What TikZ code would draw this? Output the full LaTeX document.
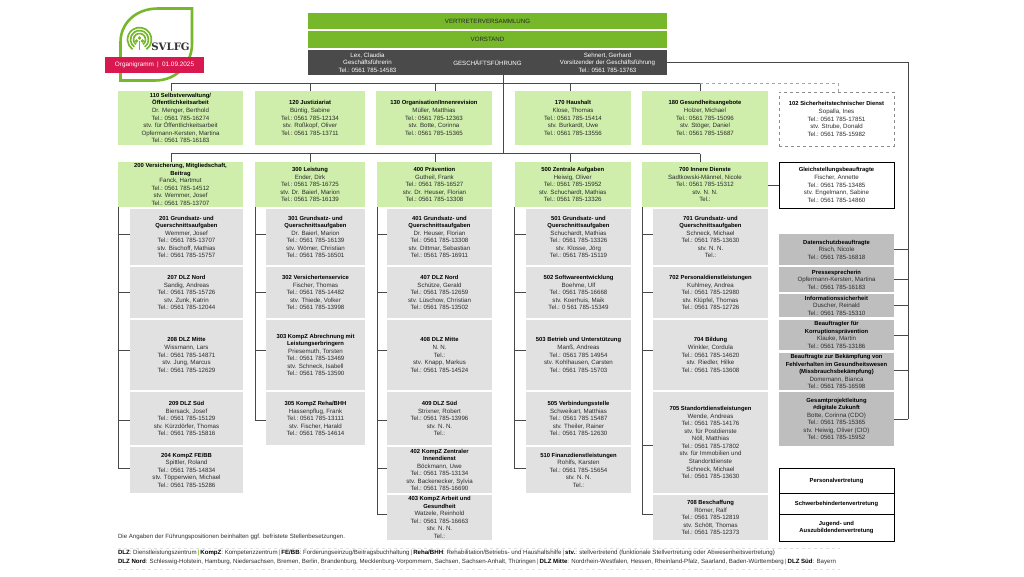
\documentclass[tikz,border=0pt]{standalone}
\usepackage{fontspec}
\setmainfont{Liberation Sans}
\newfontfamily\logofont{DejaVu Serif}
\definecolor{topgreen}{HTML}{76B82A}
\definecolor{lightgreen}{HTML}{CFEEAB}
\definecolor{lightgrey}{HTML}{E1E1E1}
\definecolor{midgrey}{HTML}{BEBEBE}
\definecolor{darkbox}{HTML}{4A4A4A}
\definecolor{rose}{HTML}{D9184F}
\definecolor{bodytext}{HTML}{2C2C2C}
\definecolor{connline}{HTML}{484848}
\newcommand{\bxn}[7]{%
  \pgfmathsetmacro{\bw}{#5-#3}\pgfmathsetmacro{\bh}{#6-#4}%
  \pgfmathsetmacro{\bcx}{(#3+#5)/2}\pgfmathsetmacro{\bcy}{(#4+#6)/2}%
  \node[#2,minimum width=\bw pt,minimum height=\bh pt] (#1) at (\bcx,\bcy) {#7};}
\newcommand{\bft}[1]{{\fontsize{5.85}{7.55}\selectfont\bfseries\textcolor{black}{#1}}}
\newcommand{\hd}[1]{\bft{#1}\\}
\newcommand{\tl}[1]{Tel.:~0561~785-#1}
\newcommand{\sep}{\textcolor{topgreen}{\,\textbf{|}\,}}
\newcommand{\bk}[1]{\textbf{\textcolor{black}{#1}}}
\tikzset{
  base/.style={inner sep=0pt,outer sep=0pt,align=center,text=bodytext,font=\fontsize{6.15}{7.55}\selectfont},
  topbox/.style={base,fill=topgreen,text=black!85},
  gfbox/.style={base,fill=darkbox,text=white},
  gftext/.style={base,text=white},
  leadbox/.style={base,fill=lightgreen},
  unitbox/.style={base,fill=lightgrey},
  staffbox/.style={base,fill=midgrey},
  safetybox/.style={base,draw=black!45,dashed,line width=0.8pt},
  linebox/.style={base,draw=black,line width=0.9pt},
  conn/.style={draw=connline,line width=1pt},
  dashconn/.style={draw=black!35,line width=0.7pt,dashed},
  rule/.style={draw=black!12,line width=0.7pt,dashed},
  notetext/.style={base,anchor=west,align=left,font=\fontsize{6.1}{7.55}\selectfont}
}
\begin{document}
\begin{tikzpicture}[x=1pt,y=-1pt]
\useasboundingbox (0,0) rectangle (1024,576);
% logo
\draw[topgreen,line width=2.6pt,fill=white] (192,8.5) -- (158,8.5) .. controls (135,8.5) and (120.5,24) .. (120.5,42) -- (120.5,80.5) -- (155,80.5) .. controls (178,80.5) and (192,62) .. (192,44) -- cycle;
\foreach \r in {12,9,6}{
  \draw[topgreen,line width=1.7pt] (139.5,39.5) ++(-55:\r pt) arc (-55:235:\r pt);}
\fill[topgreen] (139.5,38) circle (1.8pt) (136.5,41) circle (1.8pt) (142.5,41) circle (1.8pt);
\fill[topgreen] (138.7,41) rectangle (140.3,50);
\node[base,text=black!80,font=\logofont\bfseries\fontsize{10.2}{12}\selectfont] (logotext) at (170.5,46.5) {SVLFG};
\bxn{banner}{base,fill=rose,text=white,font=\fontsize{6.4}{8}\selectfont}{105}{57}{204}{73}{Organigramm\enspace|\enspace01.09.2025}
% top boxes
\bxn{vv}{topbox}{308}{13}{667}{29}{VERTRETERVERSAMMLUNG}
\bxn{vs}{topbox}{308}{31}{667}{48}{VORSTAND}
\bxn{gf}{gfbox}{308}{50}{667}{75}{GESCHÄFTSFÜHRUNG}
\node[gftext] (gfl) at (367.5,62.5) {Lex, Claudia\\Geschäftsführerin\\\tl{14583}};
\node[gftext] (gfr) at (607.5,62.5) {Sehnert, Gerhard\\Vorsitzender der Geschäftsführung\\\tl{13763}};
% first row
\bxn{n110}{leadbox}{118}{91}{243}{145}{\hd{110 Selbstverwaltung/}\hd{Öffentlichkeitsarbeit}Dr. Menger, Berthold\\\tl{16274}\\stv. für Öffentlichkeitsarbeit\\Opfermann-Kersten, Martina\\\tl{16183}}
\bxn{n120}{leadbox}{255}{91}{365}{145}{\hd{120 Justiziariat}Büntig, Sabine\\\tl{12134}\\stv. Roßkopf, Oliver\\\tl{13711}}
\bxn{n130}{leadbox}{376}{91}{492}{145}{\hd{130 Organisation/Innenrevision}Müller, Matthias\\\tl{12363}\\stv. Botte, Corinna\\\tl{15365}}
\bxn{n170}{leadbox}{515}{91}{631}{145}{\hd{170 Haushalt}Klose, Thomas\\\tl{15414}\\stv. Burkardt, Uwe\\\tl{13556}}
\bxn{n180}{leadbox}{642}{91}{768}{145}{\hd{180 Gesundheitsangebote}Holzer, Michael\\\tl{15096}\\stv. Stöger, Daniel\\\tl{15687}}
\bxn{n102}{safetybox}{779}{92}{894}{146}{\hd{102 Sicherheitstechnischer Dienst}Sopalla, Ines\\\tl{17851}\\stv. Strube, Donald\\\tl{15982}}
\bxn{ngl}{linebox}{779}{162}{894}{208}{\hd{Gleichstellungsbeauftragte}Fischer, Annette\\\tl{13485}\\stv. Engelmann, Sabine\\\tl{14860}}
% second row leads
\bxn{n200}{leadbox}{118}{162}{243}{207}{\hd{200 Versicherung, Mitgliedschaft,}\hd{Beitrag}Fanck, Hartmut\\\tl{14512}\\stv. Wemmer, Josef\\\tl{13707}}
\bxn{n300}{leadbox}{255}{162}{365}{207}{\hd{300 Leistung}Ender, Dirk\\\tl{16725}\\stv. Dr. Baierl, Marion\\\tl{16139}}
\bxn{n400}{leadbox}{377}{162}{492}{207}{\hd{400 Prävention}Gutheil, Frank\\\tl{16527}\\stv. Dr. Heuser, Florian\\\tl{13308}}
\bxn{n500}{leadbox}{514.5}{162}{631}{207}{\hd{500 Zentrale Aufgaben}Heiwig, Oliver\\\tl{15952}\\stv. Schuchardt, Mathias\\\tl{13326}}
\bxn{n700}{leadbox}{642}{162}{768}{207}{\hd{700 Innere Dienste}Sadtkowski-Männel, Nicole\\\tl{15312}\\stv. N. N.\\Tel.:}
% 200 column
\bxn{n201}{unitbox}{130}{209}{243}{265}{\hd{201 Grundsatz- und}\hd{Querschnittsaufgaben}Wemmer, Josef\\\tl{13707}\\stv. Bischoff, Mathias\\\tl{15757}}
\bxn{n207}{unitbox}{130}{267}{243}{318}{\hd{207 DLZ Nord}Sandig, Andreas\\\tl{15726}\\stv. Zunk, Katrin\\\tl{12044}}
\bxn{n208}{unitbox}{130}{320}{243}{390}{\hd{208 DLZ Mitte}Wissmann, Lars\\\tl{14871}\\stv. Jung, Marcus\\\tl{12629}}
\bxn{n209}{unitbox}{130}{392}{243}{445}{\hd{209 DLZ Süd}Biersack, Josef\\\tl{15129}\\stv. Kürzdörfer, Thomas\\\tl{15816}}
\bxn{n204}{unitbox}{130}{447}{243}{493}{\hd{204 KompZ FE/BB}Spittler, Roland\\\tl{14834}\\stv. Töpperwien, Michael\\\tl{15286}}
% 300 column
\bxn{n301}{unitbox}{266}{209}{365}{265}{\hd{301 Grundsatz- und}\hd{Querschnittsaufgaben}Dr. Baierl, Marion\\\tl{16139}\\stv. Wömer, Christian\\\tl{16501}}
\bxn{n302}{unitbox}{266}{267}{365}{318}{\hd{302 Versichertenservice}Fischer, Thomas\\\tl{14482}\\stv. Thiede, Volker\\\tl{13998}}
\bxn{n303}{unitbox}{266}{320}{365}{390}{\hd{303 KompZ Abrechnung mit}\hd{Leistungserbringern}Priesemuth, Torsten\\\tl{13469}\\stv. Schneck, Isabell\\\tl{13590}}
\bxn{n305}{unitbox}{266}{392}{365}{445}{\hd{305 KompZ Reha/BHH}Hassenpflug, Frank\\\tl{13111}\\stv. Fischer, Harald\\\tl{14614}}
% 400 column
\bxn{n401}{unitbox}{387}{209}{492}{265}{\hd{401 Grundsatz- und}\hd{Querschnittsaufgaben}Dr. Heuser, Florian\\\tl{13308}\\stv. Dittmar, Sebastian\\\tl{16911}}
\bxn{n407}{unitbox}{387}{267}{492}{318}{\hd{407 DLZ Nord}Schütze, Gerald\\\tl{12659}\\stv. Lüschow, Christian\\\tl{13502}}
\bxn{n408}{unitbox}{387}{320}{492}{390}{\hd{408 DLZ Mitte}N. N.\\Tel.:\\stv. Knapp, Markus\\\tl{14524}}
\bxn{n409}{unitbox}{387}{392}{492}{445}{\hd{409 DLZ Süd}Strixner, Robert\\\tl{13996}\\stv. N. N.\\Tel.:}
\bxn{n402}{unitbox}{387}{447}{492}{493}{\hd{402 KompZ Zentraler}\hd{Innendienst}Böckmann, Uwe\\\tl{13134}\\stv. Backenecker, Sylvia\\\tl{16690}}
\bxn{n403}{unitbox}{387}{495}{492}{540}{\hd{403 KompZ Arbeit und}\hd{Gesundheit}Watzele, Reinhold\\\tl{16663}\\stv. N. N.\\Tel.:}
% 500 column
\bxn{n501}{unitbox}{526}{209}{631}{265}{\hd{501 Grundsatz- und}\hd{Querschnittsaufgaben}Schuchardt, Mathias\\\tl{13326}\\stv. Klosse, Jörg\\\tl{15119}}
\bxn{n502}{unitbox}{526}{267}{631}{318}{\hd{502 Softwareentwicklung}Boehme, Ulf\\\tl{16668}\\stv. Koerhuis, Maik\\Tel.: 0 561 785-15349}
\bxn{n503}{unitbox}{526}{320}{631}{390}{\hd{503 Betrieb und Unterstützung}Manß, Andreas\\Tel.: 0561 785 14954\\stv. Kohlhausen, Carsten\\\tl{15703}}
\bxn{n505}{unitbox}{526}{392}{631}{445}{\hd{505 Verbindungsstelle}Schweikart, Matthias\\Tel.: 0561 785 15487\\stv. Theiler, Rainer\\\tl{12630}}
\bxn{n510}{unitbox}{526}{447}{631}{493}{\hd{510 Finanzdienstleistungen}Rohlfs, Karsten\\\tl{15654}\\stv. N. N.\\Tel.:}
% 700 column
\bxn{n701}{unitbox}{653}{209}{768}{265}{\hd{701 Grundsatz- und}\hd{Querschnittsaufgaben}Schneck, Michael\\\tl{13630}\\stv. N. N.\\Tel.:}
\bxn{n702}{unitbox}{653}{267}{768}{318}{\hd{702 Personaldienstleistungen}Kuhlmey, Andrea\\\tl{12980}\\stv. Klüpfel, Thomas\\\tl{12726}}
\bxn{n704}{unitbox}{653}{320}{768}{390}{\hd{704 Bildung}Winkler, Cordula\\\tl{14620}\\stv. Riedler, Hilke\\\tl{13608}}
\bxn{n705}{unitbox}{653}{392}{768}{493}{\hd{705 Standortdienstleistungen}Wende, Andreas\\\tl{14176}\\stv. für Postdienste\\Nöll, Matthias\\\tl{17802}\\stv. für Immobilien und\\Standortdienste\\Schneck, Michael\\\tl{13630}}
\bxn{n708}{unitbox}{653}{495}{768}{540}{\hd{708 Beschaffung}Römer, Ralf\\\tl{12819}\\stv. Schött, Thomas\\\tl{12373}}
% staff
\bxn{s1}{staffbox}{779}{234}{894}{265}{\hd{Datenschutzbeauftragte}Risch, Nicole\\\tl{16818}}
\bxn{s2}{staffbox}{779}{267}{894}{292}{\hd{Pressesprecherin}Opfermann-Kersten, Martina\\\tl{16183}}
\bxn{s3}{staffbox}{779}{294}{894}{317}{\hd{Informationssicherheit}Duscher, Reinald\\\tl{15310}}
\bxn{s4}{staffbox}{779}{320}{894}{350}{\hd{Beauftragter für}\hd{Korruptionsprävention}Klauke, Martin\\\tl{13186}}
\bxn{s5}{staffbox}{779}{353}{894}{390}{\hd{Beauftragte zur Bekämpfung von}\hd{Fehlverhalten im Gesundheitswesen}\hd{(Missbrauchsbekämpfung)}Domemann, Bianca\\\tl{16598}}
\bxn{s6}{staffbox}{779}{392}{894}{446}{\hd{Gesamtprojektleitung}\hd{\#digitale Zukunft}Botte, Corinna (CDO)\\\tl{15365}\\stv. Heiwig, Oliver (CIO)\\\tl{15952}}
% representatives
\bxn{v1}{linebox}{779}{468}{894}{493}{\bft{Personalvertretung}}
\bxn{v2}{linebox}{779}{493}{894}{514}{\bft{Schwerbehindertenvertretung}}
\bxn{v3}{linebox}{779}{514}{894}{541}{\hd{Jugend- und}\bft{Auszubildendenvertretung}}
% notes
\node[notetext] (note0) at (118,537) {Die Angaben der Führungspositionen beinhalten ggf. befristete Stellenbesetzungen.};
\node[notetext] (note1) at (118,552.5) {\bk{DLZ}: Dienstleistungszentrum\sep\bk{KompZ}: Kompetenzzentrum\sep\bk{FE/BB}: Forderungseinzug/Beitragsbuchhaltung\sep\bk{Reha/BHH}: Rehabilitation/Betriebs- und Haushaltshilfe\sep\bk{stv.}: stellvertretend (funktionale Stellvertretung oder Abwesenheitsvertretung)};
\node[notetext] (note2) at (118,561.5) {\bk{DLZ Nord}: Schleswig-Holstein, Hamburg, Niedersachsen, Bremen, Berlin, Brandenburg, Mecklenburg-Vorpommern, Sachsen, Sachsen-Anhalt, Thüringen\sep\bk{DLZ Mitte}: Nordrhein-Westfalen, Hessen, Rheinland-Pfalz, Saarland, Baden-Württemberg\sep\bk{DLZ Süd}: Bayern};
\coordinate (r1a) at (118,548);\coordinate (r1b) at (840,548);
\coordinate (r2a) at (118,569);\coordinate (r2b) at (840,569);
\draw[rule] (r1a) -- (r1b);
\draw[rule] (r2a) -- (r2b);
% connectors: top bus
\coordinate (d110) at (171,83);\coordinate (d120) at (310,83);\coordinate (d130) at (435,83);\coordinate (d170) at (570,83);\coordinate (d180) at (700,83);
\coordinate (bus2) at (503,153.5);
\draw[conn] (gf.south -| bus2) -- (bus2);
\draw[conn] (d110) -- (d180);
\draw[conn] (d110) -- (d110 |- n110.north);
\draw[conn] (d120) -- (d120 |- n120.north);
\draw[conn] (d130) -- (d130 |- n130.north);
\draw[conn] (d170) -- (d170 |- n170.north);
\draw[conn] (d180) -- (d180 |- n180.north);
\coordinate (d102) at (838,83);
\draw[dashconn] (d180) -- (d102) -- (d102 |- n102.north);
% second bus
\coordinate (e200) at (171,153.5);\coordinate (e300) at (310,153.5);\coordinate (e400) at (435,153.5);\coordinate (e500) at (570,153.5);\coordinate (e700) at (700,153.5);
\draw[conn] (e200) -- (e700);
\draw[conn] (e200) -- (e200 |- n200.north);
\draw[conn] (e300) -- (e300 |- n300.north);
\draw[conn] (e400) -- (e400 |- n400.north);
\draw[conn] (e500) -- (e500 |- n500.north);
\draw[conn] (e700) -- (e700 |- n700.north);
% spines
\foreach \lead/\units in {n200/{n201/3,n207/0.5,n208/5,n209/-1.5,n204/2},n300/{n301/3,n302/0.5,n303/5,n305/-1.5},n400/{n401/3,n407/0.5,n408/5,n409/-1.5,n402/2,n403/3.5},n500/{n501/3,n502/0.5,n503/5,n505/-1.5,n510/2},n700/{n701/3,n702/0.5,n704/5,n705/-2.5,n708/3.5}}{
  \foreach \u/\o in \units {
    \draw[conn] (\lead.south west) |- ([yshift=\o pt]\u.west);
  }
}
% right side
\coordinate (rs) at (908,62.5);
\draw[conn] (gf.east) -- (rs) -- (rs |- s6.east);
\draw[conn] (n700.east |- ngl.west) -- (ngl.west);
\foreach \s/\o in {s1/0,s2/0,s3/0,s4/0,s5/1.5,s6/0}{
  \draw[conn] ([yshift=\o pt]\s.east) -- ([yshift=\o pt]\s.east -| rs);}
\end{tikzpicture}
\end{document}
